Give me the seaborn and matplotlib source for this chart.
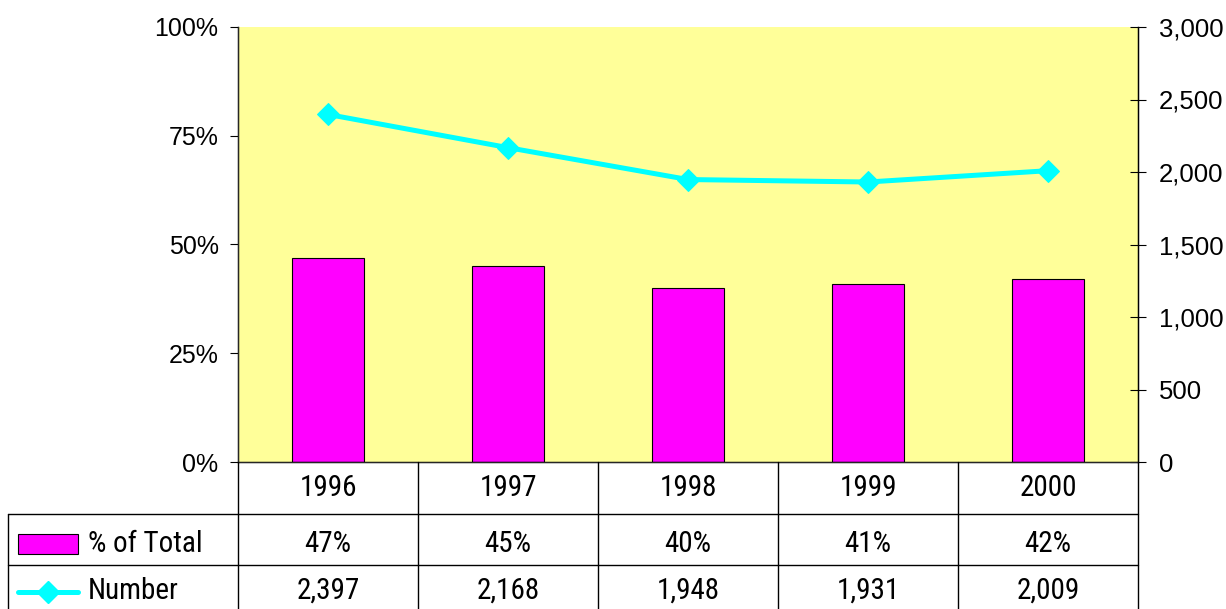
import matplotlib
matplotlib.use('Agg')
import numpy as np
import matplotlib.pyplot as plt
import matplotlib.transforms as mtransforms
from matplotlib import font_manager
import matplotlib.ticker as mticker
import seaborn as sns
import pandas as pd

years = ['1996', '1997', '1998', '1999', '2000']
pct_total = [47, 45, 40, 41, 42]
number = [2397, 2168, 1948, 1931, 2009]

sns.set_style('white')
plt.rcParams['font.family'] = ['Liberation Sans', 'DejaVu Sans']
for k in ['text.color', 'axes.labelcolor', 'xtick.color', 'ytick.color']:
    plt.rcParams[k] = 'black'

# narrow face for the data table, if one is installed
narrow = dict(family='Liberation Sans')
fs = 20
for fam, st in [('Liberation Sans Narrow', 'normal'), ('Roboto Condensed', 'normal'),
                ('Open Sans Condensed', 'normal'), ('DejaVu Sans', 'condensed')]:
    try:
        p = font_manager.findfont(font_manager.FontProperties(family=fam, stretch=st),
                                  fallback_to_default=False)
        if st == 'condensed' and 'ondensed' not in p:
            continue
        narrow = dict(family=fam, stretch=st)
        fs = 21
        break
    except Exception:
        pass

c_bar = '#FF00FF'
c_line = '#00FFFF'

df = pd.DataFrame({'year': years, 'pct': pct_total, 'num': number, 'pos': np.arange(len(years))})

f = plt.figure(figsize=(12.26, 6.09), dpi=100)
W, H = 1226.0, 609.0
ax = f.add_axes([238 / W, 1 - 462 / H, 900 / W, 435 / H])
ax.set_facecolor('#FFFF99')

sns.barplot(x='pos', y='pct', data=df, ax=ax, color=c_bar, width=0.4,
            edgecolor='black', linewidth=0.8, saturation=1, native_scale=True)
ax.set_xlim(-0.5, len(years) - 0.5)
ax.set_ylim(0, 100)
ax.set_yticks([0, 25, 50, 75, 100])
ax.yaxis.set_major_formatter(mticker.FuncFormatter(lambda v, p: '%d%%' % v))
ax.set_xticks([])
ax.set_xlabel('')
ax.set_ylabel('')
ax.tick_params(axis='y', left=True, direction='out', length=6, width=0.8, labelsize=18, pad=8)
ax.spines['top'].set_visible(False)
for s in ['left', 'bottom', 'right']:
    ax.spines[s].set_color('black')
    ax.spines[s].set_linewidth(1)

ax2 = ax.twinx()
sns.lineplot(x='pos', y='num', data=df, ax=ax2, color=c_line, linewidth=3.6,
             marker='D', markersize=11, markeredgecolor=c_line)
ax2.set_ylim(0, 3000)
ax2.set_xlim(-0.5, len(years) - 0.5)
ax2.set_yticks(np.arange(0, 3001, 500))
ax2.yaxis.set_major_formatter(mticker.FuncFormatter(lambda v, p: '{:,}'.format(int(v))))
ax2.set_ylabel('')
ax2.set_xlabel('')
ax2.tick_params(axis='y', right=True, direction='inout', length=12, width=0.8, labelsize=18.5, pad=9)
for t in ax2.get_yticklabels():
    t.set_family(['Liberation Sans', 'DejaVu Sans'])
ax2.spines['top'].set_visible(False)
ax2.spines['right'].set_color('black')

# data table under the chart
tr = mtransforms.blended_transform_factory(ax.transData, f.transFigure)
row_h = 51.5 / H
y0 = 1 - 462 / H
rows_y = [y0 - row_h * i for i in range(4)]
lk = dict(color='black', linewidth=1, clip_on=False)
edges = np.arange(len(years) + 1) - 0.5
for e in edges:
    f.add_artist(plt.Line2D([e, e], [rows_y[0], 0], transform=tr, **lk))
for yy in rows_y[1:3]:
    f.add_artist(plt.Line2D([8 / W, 238 / W], [yy, yy], transform=f.transFigure, **lk))
    f.add_artist(plt.Line2D([edges[0], edges[-1]], [yy, yy], transform=tr, **lk))
f.add_artist(plt.Line2D([8 / W, 8 / W], [rows_y[1], 0], transform=f.transFigure, **lk))

for i, y in enumerate(years):
    f.text(i, rows_y[0] - row_h / 2, y, transform=tr, ha='center', va='center', fontsize=fs, **narrow)
    f.text(i, rows_y[1] - row_h / 2 - 5 / H, '%d%%' % pct_total[i], transform=tr,
           ha='center', va='center', fontsize=fs, **narrow)
    f.text(i, rows_y[2] - row_h / 2, '{:,}'.format(number[i]), transform=tr,
           ha='center', va='center', fontsize=fs, **narrow)

# legend keys in the table
f.add_artist(plt.Rectangle((18 / W, 1 - 554 / H), 60 / W, 20 / H, facecolor=c_bar, edgecolor='black',
                           linewidth=0.8, transform=f.transFigure))
f.text(88 / W, rows_y[1] - row_h / 2 - 5 / H, '% of Total', ha='left', va='center', fontsize=fs, **narrow)
ky = 1 - 592 / H
f.add_artist(plt.Line2D([18 / W, 78 / W], [ky, ky], color=c_line, linewidth=3.6, transform=f.transFigure))
f.add_artist(plt.Line2D([48 / W], [ky], color=c_line, marker='D', markersize=11, linestyle='none',
                        transform=f.transFigure))
f.text(88 / W, rows_y[2] - row_h / 2, 'Number', ha='left', va='center', fontsize=fs, **narrow)

plt.savefig('out.png', dpi=100)
